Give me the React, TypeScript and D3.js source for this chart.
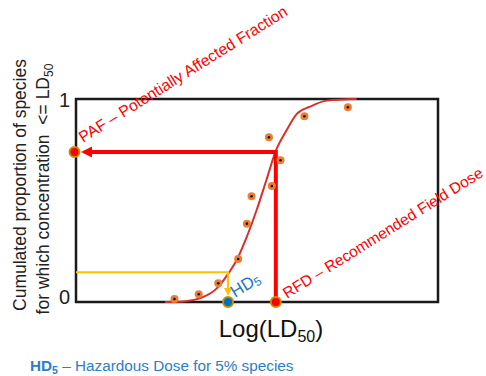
import React from "react";
import * as d3 from "d3";

// observed species points (x in arbitrary log-dose units, y = cumulated fraction)
const speciesLogLD = [27.2, 33.9, 39.3, 44.8, 47.2, 48.5, 54.1, 56.5, 53.3, 63.1, 75.1];
const speciesFrac = [0.015, 0.038, 0.092, 0.212, 0.386, 0.521, 0.571, 0.698, 0.811, 0.915, 0.959];

// fitted SSD curve
const curveLogLD = [24.6, 29.6, 35.2, 38.9, 42.1, 44.4, 47.2, 49.9, 52.6, 55.2, 58.2, 61.0, 64.6, 69.3, 77.5];
const curveFrac = [0, 0.003, 0.025, 0.067, 0.141, 0.207, 0.322, 0.453, 0.601, 0.744, 0.847, 0.927, 0.962, 0.992, 1.0];

const hd5LogLD = 42;
const hd5Frac = 0.146;
const rfdLogLD = 55.2;
const pafFrac = 0.739;

const yTicks = [0, 1];

const W = 486;
const H = 376;
const font = "'Liberation Sans', Arial, sans-serif";

const App: React.FC = () => {
  const x = d3.scaleLinear().domain([0, 100]).range([76, 438]);
  const y = d3.scaleLinear().domain([0, 1]).range([302, 99]);

  const curve = d3
    .line<number>()
    .x((d) => x(d))
    .y((_, i) => y(curveFrac[i]))
    .curve(d3.curveMonotoneX);

  const rx = x(rfdLogLD);
  const py = y(pafFrac);
  const hx = x(hd5LogLD);
  const hy = y(hd5Frac);
  const x0 = x(0);
  const y0 = y(0);

  return (
    <svg
      width={W}
      height={H}
      style={{ position: "absolute", left: 0, top: 0, background: "#fff" }}
      fontFamily={font}
    >
      {/* y axis title */}
      <text transform="translate(26,185) rotate(-90)" textAnchor="middle" fontSize={17.5} fill="#222">
        Cumulated proportion of species
      </text>
      <text transform="translate(49,189) rotate(-90)" textAnchor="middle" fontSize={17.5} fill="#222">
        for which concentration{"\u00a0"} &lt;= LD
        <tspan fontSize={12} dy={4}>50</tspan>
      </text>

      {/* plot frame */}
      <rect
        x={x0}
        y={y(1)}
        width={x(100) - x0}
        height={y0 - y(1)}
        fill="none"
        stroke="#1a1a1a"
        strokeWidth={2.5}
      />
      {yTicks.map((t) => (
        <text key={t} x={70} y={y(t) + (t === 1 ? 8 : 2)} textAnchor="end" fontSize={20} fill="#222">
          {t}
        </text>
      ))}

      {/* x axis title */}
      <text x={271} y={337} textAnchor="middle" fontSize={24} fill="#111">
        Log(LD<tspan fontSize={16} dy={5}>50</tspan>
        <tspan dy={-5}>)</tspan>
      </text>

      {/* fitted curve */}
      <path d={curve(curveLogLD) || ""} fill="none" stroke="#d9302a" strokeWidth={2} />

      {/* HD5 construction */}
      <path d={`M${x0},${hy}H${hx}V${y0 - 13}`} fill="none" stroke="#ffc000" strokeWidth={2} />
      <path d={`M${hx - 4},${y0 - 14}L${hx + 4},${y0 - 14}L${hx},${y0 - 6}Z`} fill="#ffc000" />

      {/* RFD / PAF construction */}
      <path d={`M${rx},${y0}V${py}H${x0 + 14}`} fill="none" stroke="#ff0000" strokeWidth={4} />
      <path d={`M${x0 + 16},${py - 5.5}L${x0 + 16},${py + 5.5}L${x0 + 5},${py}Z`} fill="#ff0000" />

      {/* species points */}
      {speciesLogLD.map((d, i) => (
        <g key={i}>
          <circle cx={x(d)} cy={y(speciesFrac[i])} r={4} fill="#ed7d31" />
          <circle cx={x(d)} cy={y(speciesFrac[i])} r={1.3} fill="#111" />
        </g>
      ))}

      {/* marked points */}
      <circle cx={x0 - 1.5} cy={py} r={5} fill="#ff0000" stroke="#bf9000" strokeWidth={2} />
      <circle cx={rx} cy={y0} r={5} fill="#ff0000" stroke="#bf9000" strokeWidth={2} />
      <circle cx={hx} cy={y0} r={5} fill="#0070c0" stroke="#bf9000" strokeWidth={2} />

      {/* annotations */}
      <text transform="translate(83,143) rotate(-32)" fontSize={15.8} fill="#ff0000">
        PAF – Potentially Affected Fraction
      </text>
      <text transform="translate(287,299) rotate(-32)" fontSize={15.5} fill="#ff0000">
        RFD – Recommended Field Dose
      </text>
      <text transform="translate(235,298) rotate(-32)" fontSize={17} fill="#1f78c8">
        HD<tspan fontSize={12} dy={2}>5</tspan>
      </text>

      <text x={30} y={371} fontSize={15.3} fill="#2e7dc8">
        <tspan fontWeight="bold">HD</tspan>
        <tspan fontWeight="bold" fontSize={10.5} dy={3}>5</tspan>
        <tspan dy={-3}> – Hazardous Dose for 5% species</tspan>
      </text>
    </svg>
  );
};

export default App;
